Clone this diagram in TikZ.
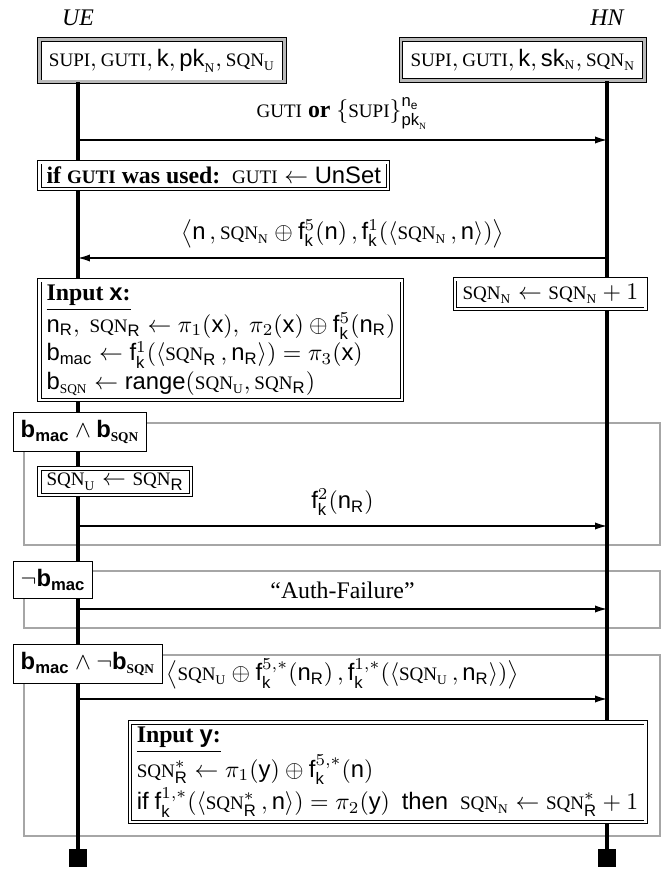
\documentclass[tikz,border=0pt]{standalone}
\usepackage{amsmath}
\usepackage{fontspec}
\setmainfont{Liberation Serif}
\setsansfont{Liberation Sans}
\usetikzlibrary{positioning, arrows.meta}

\makeatletter
\newcommand\fakesc[1]{{\fontsize{\fpeval{0.8*\f@size}}{12pt}\selectfont #1}}
\makeatother
\newcommand\scn[1]{\text{\fakesc{#1}}}
\newcommand\SQN{\scn{SQN}}
\newcommand\SUPI{\scn{SUPI}}
\newcommand\GUTI{\scn{GUTI}}
\newcommand\sv[1]{\mathsf{#1}}
\newcommand\bsv[1]{\text{\sffamily\bfseries #1}}

\begin{document}
\begin{tikzpicture}[
    x=0.42pt, y=-0.42pt,
    actor/.style={font=\itshape},
    statebox/.style={draw=black, double=gray!55, double distance=1.2pt,
        line width=0.35pt, fill=white, inner sep=4pt, minimum height=14pt},
    actbox/.style={draw, double, double distance=0.9pt, line width=0.4pt,
        fill=white, inner xsep=3pt, inner ysep=2pt, align=left},
    guard/.style={draw, fill=white, line width=0.5pt, inner xsep=3pt,
        minimum height=15.5pt},
    frame/.style={draw=gray!70, line width=1pt},
    lifeline/.style={line width=1.3pt},
    msg/.style={-{Latex[length=5pt,width=3pt]}, line width=0.5pt},
    msglabel/.style={above=3pt, inner sep=1pt},
    endsq/.style={fill=black, minimum size=7.5pt, inner sep=0pt}
]
\useasboundingbox (0,0) rectangle (672,870);

% participants
\node[actor] (ue) at (78,18) {UE};
\node[actor] (hn) at (607,18) {HN};
\node[statebox, anchor=north west] (uestate) at (39,39)
    {$\SUPI, \GUTI, \sv{k}, \sv{pk}_{\scn{N}}, \SQN_{\scn{U}}$};
\node[statebox, anchor=north east] (hnstate) at (645,39)
    {$\SUPI, \GUTI, \sv{k}, \sv{sk}_{\scn{N}}, \SQN_{\scn{N}}$};
\node[endsq] (ueend) at (ue |- 0,858) {};
\node[endsq] (hnend) at (hn |- 0,858) {};

% frames
\draw[frame] (24,423) rectangle (660,545);
\draw[frame] (24,571) rectangle (660,628);
\draw[frame] (24,655) rectangle (660,836);

% lifelines
\draw[lifeline] (uestate.south -| ue) -- (ueend);
\draw[lifeline] (hnstate.south -| hn) -- (hnend);

% actions and guards
\node[actbox, anchor=north west] (unset) at (39,162)
    {\textbf{if \fakesc{GUTI} was used:}\ \ $\GUTI \leftarrow \sv{UnSet}$};
\node[actbox, anchor=north west] (inx) at (39,280)
    {\underline{\textbf{Input \textsf{x}:}}\\
     $\sv{n}_{\sv{R}},\ \SQN_{\sv{R}} \leftarrow \pi_1(\sv{x}),\ \pi_2(\sv{x}) \oplus \sv{f}^{5}_{\sv{k}}(\sv{n}_{\sv{R}})$\\
     $\sv{b}_{\sv{mac}} \leftarrow \sv{f}^{1}_{\sv{k}}(\langle \SQN_{\sv{R}}\,, \sv{n}_{\sv{R}}\rangle) = \pi_3(\sv{x})$\\
     $\sv{b}_{\SQN} \leftarrow \sv{range}(\SQN_{\scn{U}}, \SQN_{\sv{R}})$};
\node[actbox, anchor=north east] (incr) at (646,279)
    {$\SQN_{\scn{N}} \leftarrow \SQN_{\scn{N}} + 1$};
\node[guard, anchor=north west] (g1) at (13,412)
    {$\bsv{b}_{\bsv{mac}} \wedge \bsv{b}_{\text{\bfseries\fakesc{SQN}}}$};
\node[actbox, anchor=north west] (setu) at (39,468)
    {$\SQN_{\scn{U}} \leftarrow \SQN_{\sv{R}}$};
\node[guard, anchor=north west] (g2) at (13,561)
    {$\neg\bsv{b}_{\bsv{mac}}$};
\node[guard, anchor=north west] (g3) at (13,644)
    {$\bsv{b}_{\bsv{mac}} \wedge \neg\bsv{b}_{\text{\bfseries\fakesc{SQN}}}$};
\node[actbox, anchor=north east] (iny) at (646,722)
    {\underline{\textbf{Input \textsf{y}:}}\\
     $\SQN^{*}_{\sv{R}} \leftarrow \pi_1(\sv{y}) \oplus \sv{f}^{5,*}_{\sv{k}}(\sv{n})$\\
     \textsf{if} $\sv{f}^{1,*}_{\sv{k}}(\langle \SQN^{*}_{\sv{R}}\,, \sv{n}\rangle) = \pi_2(\sv{y})$\ \ \textsf{then}\ \ $\SQN_{\scn{N}} \leftarrow \SQN^{*}_{\sv{R}} + 1$};

% messages
\coordinate (m1) at (0,140);
\coordinate (m2) at (0,258);
\coordinate (m3) at (0,526);
\coordinate (m4) at (0,609);
\coordinate (m5) at (0,699);

\draw[msg] (ue |- m1) -- node[msglabel]
    {\GUTI\ \textbf{or} $\{\SUPI\}^{\sv{n}_{\sv{e}}}_{\sv{pk}_{\scn{N}}}$} (hn |- m1);
\draw[msg] (hn |- m2) -- node[msglabel]
    {$\big\langle \sv{n}\,, \SQN_{\scn{N}} \oplus \sv{f}^{5}_{\sv{k}}(\sv{n})\,, \sv{f}^{1}_{\sv{k}}(\langle \SQN_{\scn{N}}\,, \sv{n}\rangle)\big\rangle$} (ue |- m2);
\draw[msg] (ue |- m3) -- node[msglabel]
    {$\sv{f}^{2}_{\sv{k}}(\sv{n}_{\sv{R}})$} (hn |- m3);
\draw[msg] (ue |- m4) -- node[msglabel] {``Auth-Failure''} (hn |- m4);
\draw[msg] (ue |- m5) -- node[msglabel]
    {$\big\langle \SQN_{\scn{U}} \oplus \sv{f}^{5,*}_{\sv{k}}(\sv{n}_{\sv{R}})\,, \sv{f}^{1,*}_{\sv{k}}(\langle \SQN_{\scn{U}}\,, \sv{n}_{\sv{R}}\rangle)\big\rangle$} (hn |- m5);

\end{tikzpicture}
\end{document}
